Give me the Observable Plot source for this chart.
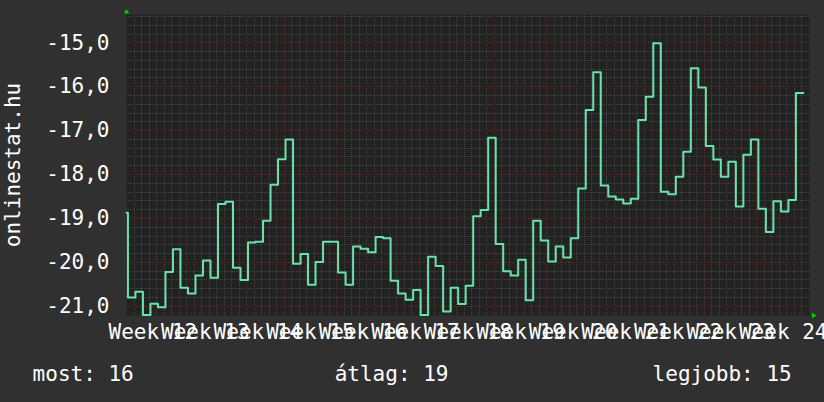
<!DOCTYPE html>
<html><head><meta charset="utf-8">
<script src="https://cdn.jsdelivr.net/npm/d3@7"></script>
<script src="https://cdn.jsdelivr.net/npm/@observablehq/plot@0.6"></script>
<style>
html,body{margin:0;padding:0;background:#303030;}
#chart{width:824px;height:402px;position:relative;overflow:hidden;font-family:"DejaVu Sans Mono",monospace;color:#fff;}
#chart svg{display:block;}
#legend{position:relative;height:57px;font-size:21px;font-family:"DejaVu Sans Mono",monospace;color:#fff;}
#legend span{position:absolute;top:19px;line-height:21px;white-space:pre;}
</style></head><body>
<div id="chart"></div>
<script>
// ---- data ----
const yLabel = "onlinestat.hu";
const weekNumbers = [12, 13, 14, 15, 16, 17, 18, 19, 20, 21, 22, 23, 24];
// first entry = tail of the previous day, then one value per day
const values = [
  -18.87,
  -20.80, -20.67, -21.20, -20.94, -21.02, -20.22, -19.70,
  -20.58, -20.71, -20.30, -19.96, -20.35, -18.67, -18.62,
  -20.12, -20.40, -19.55, -19.53, -19.05, -18.23, -17.65,
  -17.20, -20.03, -19.81, -20.51, -19.99, -19.53, -19.53,
  -20.23, -20.51, -19.64, -19.69, -19.77, -19.42, -19.45,
  -20.42, -20.71, -20.85, -20.63, -21.20, -19.87, -20.08,
  -21.12, -20.58, -20.95, -20.53, -18.95, -18.81, -17.16,
  -19.58, -20.20, -20.30, -19.94, -20.86, -19.05, -19.50,
  -19.98, -19.64, -19.89, -19.45, -18.32, -16.53, -15.67,
  -18.25, -18.50, -18.57, -18.66, -18.55, -16.76, -16.23,
  -15.01, -18.39, -18.45, -18.05, -17.48, -15.58, -16.02,
  -17.35, -17.66, -18.05, -17.71, -18.73, -17.55, -17.20,
  -18.78, -19.31, -18.61, -18.84, -18.58, -16.14
];
const dayShift = 0.19;           // sample timestamps are offset from midnight
const totalDays = 91;            // 13 weeks shown
const yMin = -21.21, yMax = -14.355;
const majorY = [-21, -20, -19, -18, -17, -16, -15];
const legendItems = ["most: 16", "átlag: 19", "legjobb: 15"];

// ---- derived tables ----
const points = values.map((v, i) => ({t: Math.max(0, i - 1 + dayShift), v}));
points.push({t: values.length - 1 + dayShift, v: values[values.length - 1]});
const weekTicks = d3.range(7, totalDays, 7);
const dayTicks = d3.range(1, totalDays).filter(d => d % 7 !== 0);
const minorY = d3.range(-105, -71).map(k => k / 5).filter(v => v > yMin && v < yMax && Math.abs(v - Math.round(v)) > 1e-6);
const weekLabels = weekNumbers.map((w, i) => ({t: 3.5 + 7 * i, label: "Week " + w}));
const fmt = d => d.toFixed(1).replace(".", ",").replace("−", "-");

const minorStyle = {stroke: "#444444", strokeOpacity: 1, strokeDasharray: "1,1", shapeRendering: "crispEdges"};
const majorStyle = {stroke: "#5c2e2e", strokeOpacity: 1, strokeDasharray: "1,1", shapeRendering: "crispEdges"};

const chart = Plot.plot({
  width: 824, height: 345,
  marginLeft: 126, marginRight: 15, marginTop: 14, marginBottom: 30,
  style: {background: "#303030", color: "#fff", fontFamily: "DejaVu Sans Mono", fontSize: "21px", overflow: "visible"},
  x: {domain: [0, totalDays], axis: null},
  y: {domain: [yMin, yMax], axis: null},
  marks: [
    Plot.frame({fill: "#222222", stroke: null}),
    Plot.gridX(dayTicks, minorStyle),
    Plot.gridY(minorY, minorStyle),
    Plot.gridX(weekTicks, majorStyle),
    Plot.gridY(majorY, majorStyle),
    Plot.line(points, {x: "t", y: "v", curve: "step-after", stroke: "#68e4aa", strokeWidth: 2}),
    Plot.axisY(majorY, {tickSize: 0, tickPadding: 17, tickFormat: fmt, fontSize: 21, fill: "#fff",
      label: yLabel, labelAnchor: "center", labelOffset: 121, labelArrow: "none"}),
    Plot.text(weekLabels, {x: "t", text: "label", frameAnchor: "bottom", dy: 23, lineAnchor: "bottom", fill: "#fff", fontSize: 21}),
    Plot.dot([{t: 0, v: yMax}], {x: "t", y: "v", symbol: "triangle", r: 2, fill: "#00d000", stroke: null, dy: -2.5}),
    Plot.dot([{t: totalDays, v: yMin}], {x: "t", y: "v", symbol: "triangle", rotate: 90, r: 2, fill: "#00d000", stroke: null, dx: 4})
  ]
});
document.getElementById("chart").appendChild(chart);

const legend = document.createElement("div");
legend.id = "legend";
const lefts = [32.6, 334.7, 652.6];
legendItems.forEach((txt, i) => {
  const s = document.createElement("span");
  s.textContent = txt;
  s.style.left = lefts[i] + "px";
  legend.appendChild(s);
});
document.getElementById("chart").appendChild(legend);
</script>
</body></html>
